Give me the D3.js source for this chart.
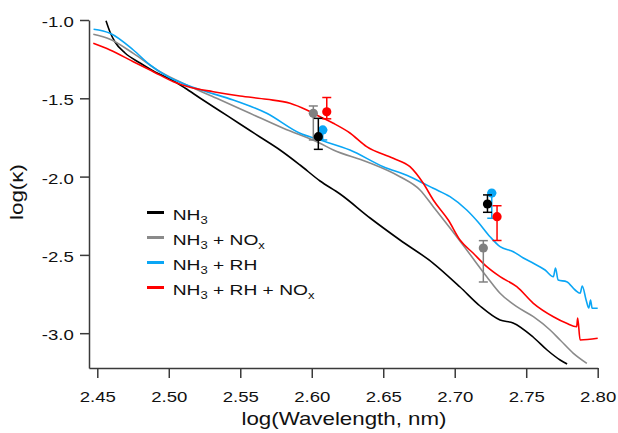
<!DOCTYPE html>
<html><head><meta charset="utf-8">
<script src="https://cdn.jsdelivr.net/npm/d3@7"></script>
<style>
body{margin:0;background:#fff}
svg{display:block}
text{font-family:"Liberation Sans",Arial,Helvetica,sans-serif;fill:#111}
</style>
</head><body>
<svg id="chart" width="618" height="433"></svg>
<script>
// ---------- data ----------
const xTicks = [2.45, 2.50, 2.55, 2.60, 2.65, 2.70, 2.75, 2.80];
const yTicks = [-1.0, -1.5, -2.0, -2.5, -3.0];
const xTitle = "log(Wavelength, nm)";
const yTitle = "log(κ)";
const seriesLabels = ["NH_3", "NH_3 + NO_x", "NH_3 + RH", "NH_3 + RH + NO_x"];
const seriesColors = ["#000000", "#8a8a8a", "#0aa6f5", "#ff0000"];

const nh3Line = [[2.4561,-1.0045],[2.4589,-1.0766],[2.4624,-1.1405],[2.4694,-1.2107],[2.4799,-1.2746],[2.4904,-1.3321],[2.5009,-1.3768],[2.5113,-1.4342],[2.5218,-1.4981],[2.5358,-1.5811],[2.5498,-1.6641],[2.5638,-1.7472],[2.5778,-1.8302],[2.5918,-1.9260],[2.6058,-2.0281],[2.6198,-2.1112],[2.6408,-2.2644],[2.6617,-2.4049],[2.6848,-2.5518],[2.7037,-2.7050],[2.7177,-2.8264],[2.7317,-2.9158],[2.7408,-2.9350],[2.7548,-3.0244],[2.7646,-3.1074],[2.7737,-3.1712],[2.7786,-3.1968]];
const nh3NoxLine = [[2.4472,-1.0913],[2.4589,-1.1232],[2.4752,-1.2127],[2.4939,-1.3302],[2.5125,-1.4151],[2.5335,-1.5000],[2.5568,-1.5958],[2.5801,-1.6916],[2.6058,-1.7874],[2.6151,-1.8302],[2.6384,-1.9049],[2.6617,-2.0007],[2.6757,-2.0856],[2.6850,-2.1923],[2.6967,-2.3283],[2.7084,-2.4688],[2.7224,-2.6393],[2.7317,-2.7453],[2.7434,-2.8309],[2.7550,-2.8947],[2.7667,-2.9796],[2.7737,-3.0435],[2.7830,-3.1284],[2.7924,-3.1923]];
const nh3RhLine = [[2.4474,-1.0594],[2.4589,-1.0849],[2.4752,-1.1916],[2.4869,-1.2874],[2.4985,-1.3576],[2.5125,-1.4151],[2.5265,-1.4579],[2.5451,-1.5109],[2.5685,-1.5958],[2.5918,-1.7235],[2.6058,-1.7663],[2.6267,-1.8302],[2.6500,-1.9368],[2.6687,-2.0007],[2.6780,-2.0428],[2.6850,-2.0748],[2.6967,-2.1284],[2.7084,-2.2133],[2.7163,-2.2900],[2.7247,-2.3838],[2.7317,-2.4477],[2.7410,-2.4796],[2.7480,-2.5199],[2.7550,-2.5537],[2.7632,-2.5965],[2.7690,-2.6393],[2.7705,-2.5837],[2.7723,-2.6604],[2.7783,-2.6712],[2.7842,-2.7242],[2.7877,-2.7453],[2.7892,-2.6986],[2.7919,-2.7880],[2.7938,-2.8391],[2.7950,-2.7880],[2.7961,-2.8410],[2.8000,-2.8410]];
const nh3RhNoxLine = [[2.4472,-1.1488],[2.4589,-1.1916],[2.4752,-1.2663],[2.4892,-1.3302],[2.5032,-1.3940],[2.5148,-1.4298],[2.5311,-1.4579],[2.5498,-1.4853],[2.5685,-1.5064],[2.5848,-1.5319],[2.5965,-1.5747],[2.6058,-1.6175],[2.6151,-1.6597],[2.6267,-1.7216],[2.6384,-1.8091],[2.6570,-1.8832],[2.6687,-1.9368],[2.6780,-2.0428],[2.6850,-2.1494],[2.6955,-2.2772],[2.7037,-2.4049],[2.7130,-2.4898],[2.7224,-2.5754],[2.7317,-2.6393],[2.7434,-2.7031],[2.7550,-2.8091],[2.7690,-2.8947],[2.7783,-2.9368],[2.7853,-2.9585],[2.7860,-2.9030],[2.7877,-3.0435],[2.8000,-3.0326]];

// points: [x, y, lower, upper]
const nh3Pts = [[2.6046,-1.745,-1.826,-1.628],[2.7229,-2.175,-2.228,-2.117]];
const nh3NoxPts = [[2.6011,-1.596,-1.766,-1.549],[2.7200,-2.456,-2.673,-2.409]];
const nh3RhPts = [[2.6077,-1.702,-1.766,-1.702],[2.7259,-2.105,-2.266,-2.105]];
const nh3RhNoxPts = [[2.6105,-1.586,-1.631,-1.495],[2.7296,-2.256,-2.408,-2.186]];

// ---------- layout ----------
const svg = d3.select("#chart");
const SX = 1.24;
const x = d3.scaleLinear().domain([2.4442, 2.80]).range([89, 597.7]);
const y = d3.scaleLinear().domain([-3.2223, -1.0]).range([368, 20]);
const axisColor = "#3a3a3a";

// axes
const gx = svg.append("g").attr("transform", "translate(0,368)")
  .call(d3.axisBottom(x).tickValues(xTicks).tickFormat(d => d.toFixed(2))
    .tickSize(10).tickSizeOuter(0).tickPadding(13));
const gy = svg.append("g").attr("transform", "translate(89,0)")
  .call(d3.axisLeft(y).tickValues(yTicks).tickFormat(d => d.toFixed(1))
    .tickSize(9).tickSizeOuter(0));
[gx, gy].forEach(g => {
  g.attr("font-size", null).attr("font-family", null);
  g.select(".domain").attr("stroke", axisColor).attr("stroke-width", 1.5);
  g.selectAll(".tick line").attr("stroke", axisColor).attr("stroke-width", 1.5);
  g.selectAll(".tick text").attr("fill", "#111").style("font-size", "15px")
    .attr("transform", `scale(${SX},1)`);
});
gy.selectAll(".tick text").attr("x", -15.3 / SX).attr("dy", "0.43em");

// titles
svg.append("text").attr("transform", `translate(344,425) scale(${SX},1)`)
  .attr("text-anchor", "middle").style("font-size", "18px").text(xTitle);
svg.append("text").attr("transform", `translate(23,192) rotate(-90) scale(${SX},1)`)
  .attr("text-anchor", "middle").style("font-size", "18px").text(yTitle);

// lines
const line = d3.line().x(d => x(d[0])).y(d => y(d[1])).curve(d3.curveMonotoneX);
const lines = [nh3Line, nh3NoxLine, nh3RhLine, nh3RhNoxLine];
lines.forEach((ln, i) => {
  svg.append("path").datum(ln).attr("d", line).attr("fill", "none")
    .attr("stroke", seriesColors[i]).attr("stroke-width", 1.6)
    .attr("stroke-linejoin", "round");
});

// error-bar points (draw order: RH, NOx, NH3, RH+NOx)
const pts = [nh3Pts, nh3NoxPts, nh3RhPts, nh3RhNoxPts];
const markerColors = ["#000000", "#808080", "#0aa6f5", "#ff0000"];
[2, 1, 0, 3].forEach(i => {
  const g = svg.append("g").attr("stroke", markerColors[i]).attr("fill", markerColors[i]);
  pts[i].forEach(p => {
    const cx = x(p[0]);
    g.append("line").attr("x1", cx).attr("x2", cx).attr("y1", y(p[2])).attr("y2", y(p[3])).attr("stroke-width", 1.5);
    [p[2], p[3]].forEach(v => {
      g.append("line").attr("x1", cx - 4.5).attr("x2", cx + 4.5).attr("y1", y(v)).attr("y2", y(v)).attr("stroke-width", 1.5);
    });
    g.append("circle").attr("cx", cx).attr("cy", y(p[1])).attr("r", 4.6).attr("stroke", "none");
  });
});

// legend
const legend = svg.append("g");
seriesLabels.forEach((lab, i) => {
  const ly = 212.5 + i * 25;
  legend.append("line").attr("x1", 147).attr("x2", 164).attr("y1", ly).attr("y2", ly)
    .attr("stroke", seriesColors[i]).attr("stroke-width", 3);
  const t = legend.append("text").attr("transform", `translate(172.7,${ly + 7.5}) scale(${SX},1)`)
    .style("font-size", "15.5px");
  const parts = lab.split(/(_[0-9a-z])/).filter(s => s.length);
  let shift = 0;
  parts.forEach(s => {
    if (s[0] === "_") {
      t.append("tspan").attr("dy", 4 - shift).style("font-size", "10.5px").text(s.slice(1));
      shift = 4;
    } else {
      t.append("tspan").attr("dy", -shift).text(s);
      shift = 0;
    }
  });
});
</script>
</body></html>
